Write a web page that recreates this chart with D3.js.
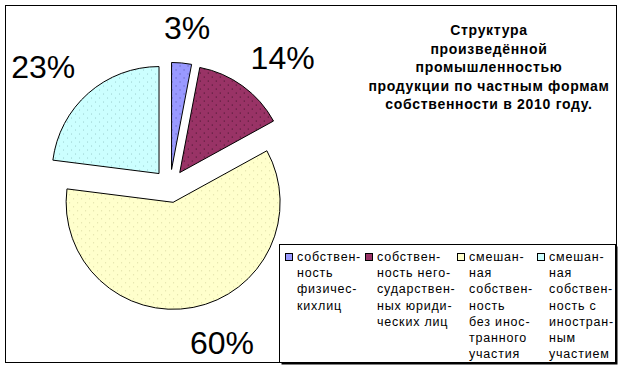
<!DOCTYPE html>
<html><head><meta charset="utf-8">
<script src="https://cdn.jsdelivr.net/npm/d3@7"></script>
<style>
html,body{margin:0;padding:0;background:#fff;}
svg{display:block;}
</style></head>
<body>
<svg id="chart" width="623" height="369"></svg>
<script>
const categories = [
  ["собствен-","ность","физичес-","кихлиц"],
  ["собствен-","ность него-","сударствен-","ных юриди-","ческих лиц"],
  ["смешан-","ная","собствен-","ность","без инос-","транного","участия"],
  ["смешан-","ная","собствен-","ность с","иностран-","ным","участием"]
];
const values = [3, 14, 60, 23];
const labels = ["3%", "14%", "60%", "23%"];
const colors = ["#9999FF", "#993366", "#FFFFCC", "#CCFFFF"];
const dotColors = ["#5555aa", "#3a1026", "#d8d8a0", "#99cccc"];
const titleLines = ["Структура","произведённой","промышленностью","продукции по частным формам","собственности в 2010 году."];

const svg = d3.select("#chart");

// outer frame
svg.append("rect").attr("x",5.5).attr("y",5.5).attr("width",611).attr("height",357)
  .attr("fill","#fff").attr("stroke","#000").attr("stroke-width",1);

// patterns
const defs = svg.append("defs");
colors.forEach((c,i)=>{
  const p = defs.append("pattern").attr("id","pat"+i).attr("patternUnits","userSpaceOnUse")
    .attr("width",8).attr("height",8);
  p.append("rect").attr("width",8).attr("height",8).attr("fill",c);
  p.append("rect").attr("x",0).attr("y",0).attr("width",1).attr("height",1).attr("fill",dotColors[i]);
  p.append("rect").attr("x",4).attr("y",4).attr("width",1).attr("height",1).attr("fill",dotColors[i]);
});

const cx = 170, cy = 186, r = 107, explode = 16.6;
const pie = d3.pie().sort(null).value(d=>d).startAngle(0).endAngle(2*Math.PI);
const arcs = pie(values);
const arc = d3.arc().innerRadius(0).outerRadius(r);

const g = svg.append("g").attr("transform",`translate(${cx},${cy})`);
arcs.forEach((a,i)=>{
  const mid = (a.startAngle + a.endAngle)/2;
  const dx = Math.sin(mid)*explode, dy = -Math.cos(mid)*explode;
  g.append("path").attr("d", arc(a))
    .attr("transform",`translate(${dx},${dy})`)
    .attr("fill",`url(#pat${i})`).attr("stroke","#000").attr("stroke-width",1);
});

// percentage labels
const fontSize = 32;
arcs.forEach((a,i)=>{
  const mid = (a.startAngle + a.endAngle)/2;
  const s = Math.sin(mid), c = -Math.cos(mid);
  const t = svg.append("text").text(labels[i])
    .attr("font-family","Arial, 'Liberation Sans', sans-serif")
    .attr("font-size",fontSize).attr("fill","#000").attr("text-anchor","middle");
  const w = t.node().getComputedTextLength(), h = 23;
  const R = r + explode;
  const x = cx + (R + 36)*s + (w/2)*s + (c > 0.9 ? 16 : 0);
  const y = cy + (R + 24)*c + (h/2)*c;
  t.attr("x", x).attr("y", y + h/2);
});

// title
const title = svg.append("text").attr("font-family","Arial, 'Liberation Sans', sans-serif")
  .attr("font-size",14).attr("font-weight","bold").attr("letter-spacing",0.7).attr("text-anchor","middle");
titleLines.forEach((l,i)=>{
  title.append("tspan").attr("x",489).attr("y",35 + i*18.5).text(l);
});

// legend
const lx = 279.5, ly = 244.5, lw = 336, lh = 118;
svg.append("rect").attr("x",lx+2).attr("y",ly+2).attr("width",lw).attr("height",lh).attr("fill","#000");
svg.append("rect").attr("x",lx).attr("y",ly).attr("width",lw).attr("height",lh)
  .attr("fill","#fff").attr("stroke","#000").attr("stroke-width",1);
const colX = [285, 365, 457, 537];
categories.forEach((lines,i)=>{
  svg.append("rect").attr("x",colX[i]+0.5).attr("y",253.5).attr("width",7).attr("height",7)
    .attr("fill",colors[i]).attr("stroke","#000").attr("stroke-width",1);
  const t = svg.append("text").attr("font-family","Arial, 'Liberation Sans', sans-serif")
    .attr("font-size",12.5).attr("letter-spacing",0.8).attr("fill","#000");
  lines.forEach((l,j)=>{
    t.append("tspan").attr("x",colX[i]+12).attr("y",261 + j*16.2).text(l);
  });
});
</script>
</body></html>
